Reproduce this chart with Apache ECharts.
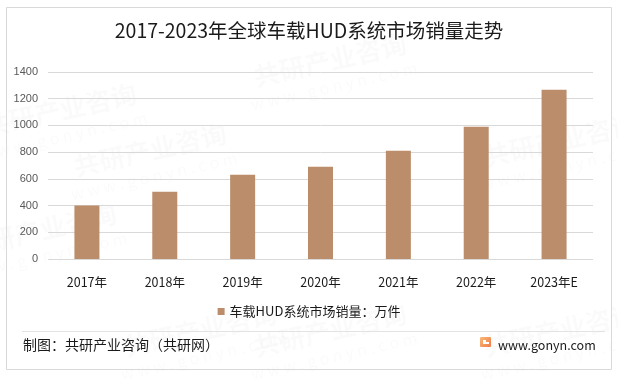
<!DOCTYPE html>
<html>
<head>
<meta charset="utf-8">
<script src="https://cdn.jsdelivr.net/npm/echarts@6/dist/echarts.min.js"></script>
<style>
html,body{margin:0;padding:0;background:#fff;}
#c{width:618px;height:379px;}
</style>
</head>
<body>
<div id="c"></div>
<script>
const titleText = '2017-2023年全球车载HUD系统市场销量走势';
const categories = ['2017年','2018年','2019年','2020年','2021年','2022年','2023年E'];
const salesValues = [400, 504, 630, 690, 810, 990, 1267];
const seriesName = '车载HUD系统市场销量：万件';
const sourceText = '制图：共研产业咨询（共研网）';
const siteText = 'www.gonyn.com';

const FONT = '"Noto Sans CJK SC","Noto Sans",sans-serif';
const chart = echarts.init(document.getElementById('c'), null, {renderer:'canvas'});

const wm = [];
const wmPos = [[150,150],[330,60],[330,330],[560,140],[40,230],[560,330],[200,330],[60,110]];
wmPos.forEach(p=>{
  wm.push({type:'text', x:p[0], y:p[1], rotation:0.22, silent:true, z:0,
    style:{text:'共研产业咨询', font:'bold 26px '+FONT, fill:'rgba(0,0,0,0.018)', align:'center', verticalAlign:'middle'}});
  wm.push({type:'text', x:p[0]+4, y:p[1]+26, rotation:0.22, silent:true, z:0,
    style:{text:'w w w . g o n y n . c o m', font:'16px '+FONT, fill:'rgba(0,0,0,0.018)', align:'center', verticalAlign:'middle'}});
});

chart.setOption({
  backgroundColor:'#fff',
  animation:false,
  title:{text:titleText, left:'center', top:16,
    textStyle:{fontFamily:FONT, fontSize:19.5, fontWeight:'normal', color:'#1a1a1a'}},
  grid:{left:48, right:25, top:72, bottom:120},
  legend:{bottom:56, left:'center', itemWidth:7, itemHeight:7, itemGap:5,
    icon:'rect',
    textStyle:{fontFamily:FONT, fontSize:13, color:'#1a1a1a'}},
  xAxis:{type:'category', data:categories,
    axisLine:{show:false}, axisTick:{show:false},
    axisLabel:{fontFamily:FONT, fontSize:12.5, color:'#1a1a1a', margin:17}},
  yAxis:{type:'value', min:0, max:1400, interval:200,
    axisLine:{show:false}, axisTick:{show:false},
    axisLabel:{fontFamily:'"Liberation Sans",Arial,sans-serif', fontSize:11, color:'#595959', margin:10,
      formatter:v=>String(v)},
    splitLine:{lineStyle:{color:'#d9d9d9', width:1}}},
  series:[{name:seriesName, type:'bar', data:salesValues, barWidth:25,
    itemStyle:{color:'#bb8d6a'}}],
  graphic:[
    ...wm,
    {type:'rect', shape:{x:6.5, y:7.5, width:605, height:362}, silent:true,
      style:{fill:'none', stroke:'#d9d9d9', lineWidth:1}},
    {type:'line', shape:{x1:22, y1:331.5, x2:605, y2:331.5}, silent:true,
      style:{stroke:'#e3e3e3', lineWidth:1}},
    {type:'text', x:23, y:345, style:{text:sourceText, font:'14px '+FONT, fill:'#1a1a1a', verticalAlign:'middle'}},
    {type:'rect', shape:{x:480, y:337, width:11, height:10, r:1}, silent:true,
      style:{fill:new echarts.graphic.LinearGradient(0,0,1,1,[{offset:0,color:'#f9b97a'},{offset:1,color:'#f07b45'}])}},
    {type:'rect', shape:{x:483, y:340, width:3, height:4}, silent:true, style:{fill:'#fff'}},
    {type:'rect', shape:{x:486, y:342, width:3, height:2}, silent:true, style:{fill:'#fff'}},
    {type:'text', x:498, y:345, style:{text:siteText, font:'12.5px '+FONT, fill:'#1a1a1a', verticalAlign:'middle'}}
  ]
});
</script>
</body>
</html>
